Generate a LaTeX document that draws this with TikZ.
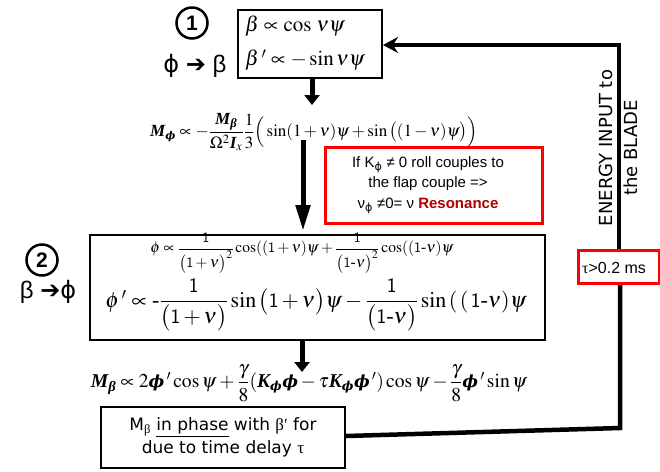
\documentclass[tikz,border=0pt]{standalone}
\usepackage{amsmath}
\usepackage{mathptmx}
\usepackage[no-math]{fontspec}
\setmainfont{Liberation Serif}
\newfontfamily\arial{Liberation Sans}
\newfontfamily\comic{DejaVu Sans}
\newfontfamily\dvserif{DejaVu Serif}
\usetikzlibrary{arrows.meta}
\definecolor{resred}{RGB}{176,0,0}
\newcommand{\bM}{\text{\bfseries\itshape M}}
\newcommand{\bK}{\text{\bfseries\itshape K}}
\newcommand{\bI}{\text{\bfseries\itshape I}}
\newcommand{\bphi}{\text{\scalebox{0.85}{\dvserif\bfseries\itshape ϕ}}}
\newcommand{\bbeta}{\text{\bfseries\itshape β}}
\newcommand{\hvarrow}{{\comic\bfseries ➔}}
\newcommand{\sphi}{{\comic ϕ}}
\begin{document}
\begin{tikzpicture}[x=1pt,y=-1pt,
  blackbox/.style={draw=black,line width=2pt,inner sep=0pt},
  redbox/.style={draw=red,line width=3pt,inner sep=0pt},
  bigarrow/.style={line width=5pt,-{Triangle[length=10pt,width=15pt]}},
  longarrow/.style={line width=5pt,-{Triangle[length=26pt,width=14pt]}},
  feed/.style={line width=4.5pt},
  num/.style={draw,circle,line width=2.5pt,minimum size=31pt,inner sep=0pt,font=\arial\bfseries\fontsize{21}{21}\selectfont},
  lbl/.style={font=\arial\fontsize{24}{24}\selectfont,inner sep=0pt},
  eq/.style={inner sep=0pt}
]
\useasboundingbox (0,0) rectangle (660,471);
\fill[white] (0,0) rectangle (660,471);

% box 1
\node[blackbox,minimum width=144pt,minimum height=68pt] (b1) at (310,44) {};
\node[eq,anchor=west,font=\fontsize{21}{21}\selectfont] (b1l1) at (245,26) {$\beta\propto\cos\,\nu\psi$};
\node[eq,anchor=west,font=\fontsize{21}{21}\selectfont] (b1l2) at (245,60) {$\beta{\,}'\propto-\sin\nu\psi$};
\node[num] (c1) at (192,23) {1};
\node[lbl] (t1) at (195,66) {\sphi{} \hvarrow{} β};

% equation M_phi
\node[eq,font=\fontsize{17}{17}\selectfont] (eq1) at (314,132)
 {$\bM_{\bphi}\propto-\dfrac{\bM_{\bbeta}}{\Omega^2\bI_{x}}\dfrac{1}{3}\Big(\sin(1+\nu)\psi+\sin\big((1-\nu)\psi\big)\Big)$};

% red box
\node[redbox,minimum width=217pt,minimum height=76pt] (rb) at (433.5,185) {};
\node[font=\arial\fontsize{15}{20.5}\selectfont,align=center,inner sep=0pt] (rbt) at (428,185)
 {If K\textsubscript{\sphi} ≠ 0 roll couples to\\the flap couple =>\\ν\textsubscript{\sphi} ≠0= ν \textcolor{resred}{\textbf{Resonance}}};

% box 2
\node[blackbox,minimum width=455pt,minimum height=105pt] (b2) at (317.5,287.5) {};
\node[eq,font=\fontsize{15.5}{15.5}\selectfont] (b2l1) at (302,253)
 {$\phi\propto\dfrac{\mathsf{1}}{\big(\mathsf{1}+\nu\big)^2}\cos((\mathsf{1}+\nu)\psi+\dfrac{\mathsf{1}}{\big(\mathsf{1}\text{-}\nu\big)^2}\cos((\mathsf{1}\text{-}\nu)\psi$};
\node[eq,font=\fontsize{22}{22}\selectfont] (b2l2) at (316,305)
 {$\phi{\,}'\propto\text{-}\dfrac{\mathsf{1}}{\big(\mathsf{1}+\nu\big)}\sin\big(\mathsf{1}+\nu\big)\psi-\dfrac{\mathsf{1}}{\big(\mathsf{1}\text{-}\nu\big)}\sin\,(\,(\,\mathsf{1}\text{-}\nu)\psi$};
\node[num] (c2) at (42,260) {2};
\node[lbl] (t2) at (48,292) {β \hvarrow{}\sphi};

% equation M_beta
\node[eq,font=\fontsize{19.6}{19.6}\selectfont] (eq2) at (309,383)
 {$\bM_{\bbeta}\propto 2\bphi{\,}'\cos\psi+\dfrac{\gamma}{8}(\bK_{\bphi}\bphi-\tau\bK_{\bphi}\bphi{\,}')\cos\psi-\dfrac{\gamma}{8}\bphi{\,}'\sin\psi$};

% bottom box
\node[blackbox,fill=white,minimum width=244pt,minimum height=61pt] (b3) at (223,437.5) {};
\node[font=\comic\fontsize{17}{23}\selectfont,align=center,inner sep=0pt] (b3t) at (223,437)
 {M\textsubscript{\rmfamily β} \underline{in phase} with {\rmfamily β′} for\\due to time delay {\rmfamily τ}};

% tau box
\node[redbox,minimum width=81pt,minimum height=33pt] (tb) at (618.5,267) {};
\node[font=\arial\fontsize{16}{16}\selectfont,anchor=west,inner sep=0pt] (tbt) at (582,268) {{\rmfamily τ}>0.2 ms};

% energy text
\node[font=\comic\fontsize{18}{25}\selectfont,align=center,rotate=90,inner sep=0pt] (en) at (618,148)
 {ENERGY INPUT to\\the BLADE};

% arrows
\coordinate (a1s) at (312,78);
\coordinate (a1e) at (312,105);
\draw[bigarrow] (a1s) -- (a1e);
\coordinate (a2s) at (303,140);
\coordinate (a2e) at (303,231);
\draw[longarrow] (a2s) -- (a2e);
\coordinate (a3s) at (302,341);
\coordinate (a3e) at (302,372);
\draw[bigarrow] (a3s) -- (a3e);

% feedback loop
\coordinate (br) at (620,428);
\coordinate (tr) at (619,45);
\draw[feed] (b3.east |- 0,436) -- (br) -- (tb.south -| br);
\draw[feed,-{Stealth[length=15pt,width=16pt,inset=5pt]}] (tb.north -| tr) -- (tr) -- (b1.east |- tr);
\end{tikzpicture}
\end{document}
